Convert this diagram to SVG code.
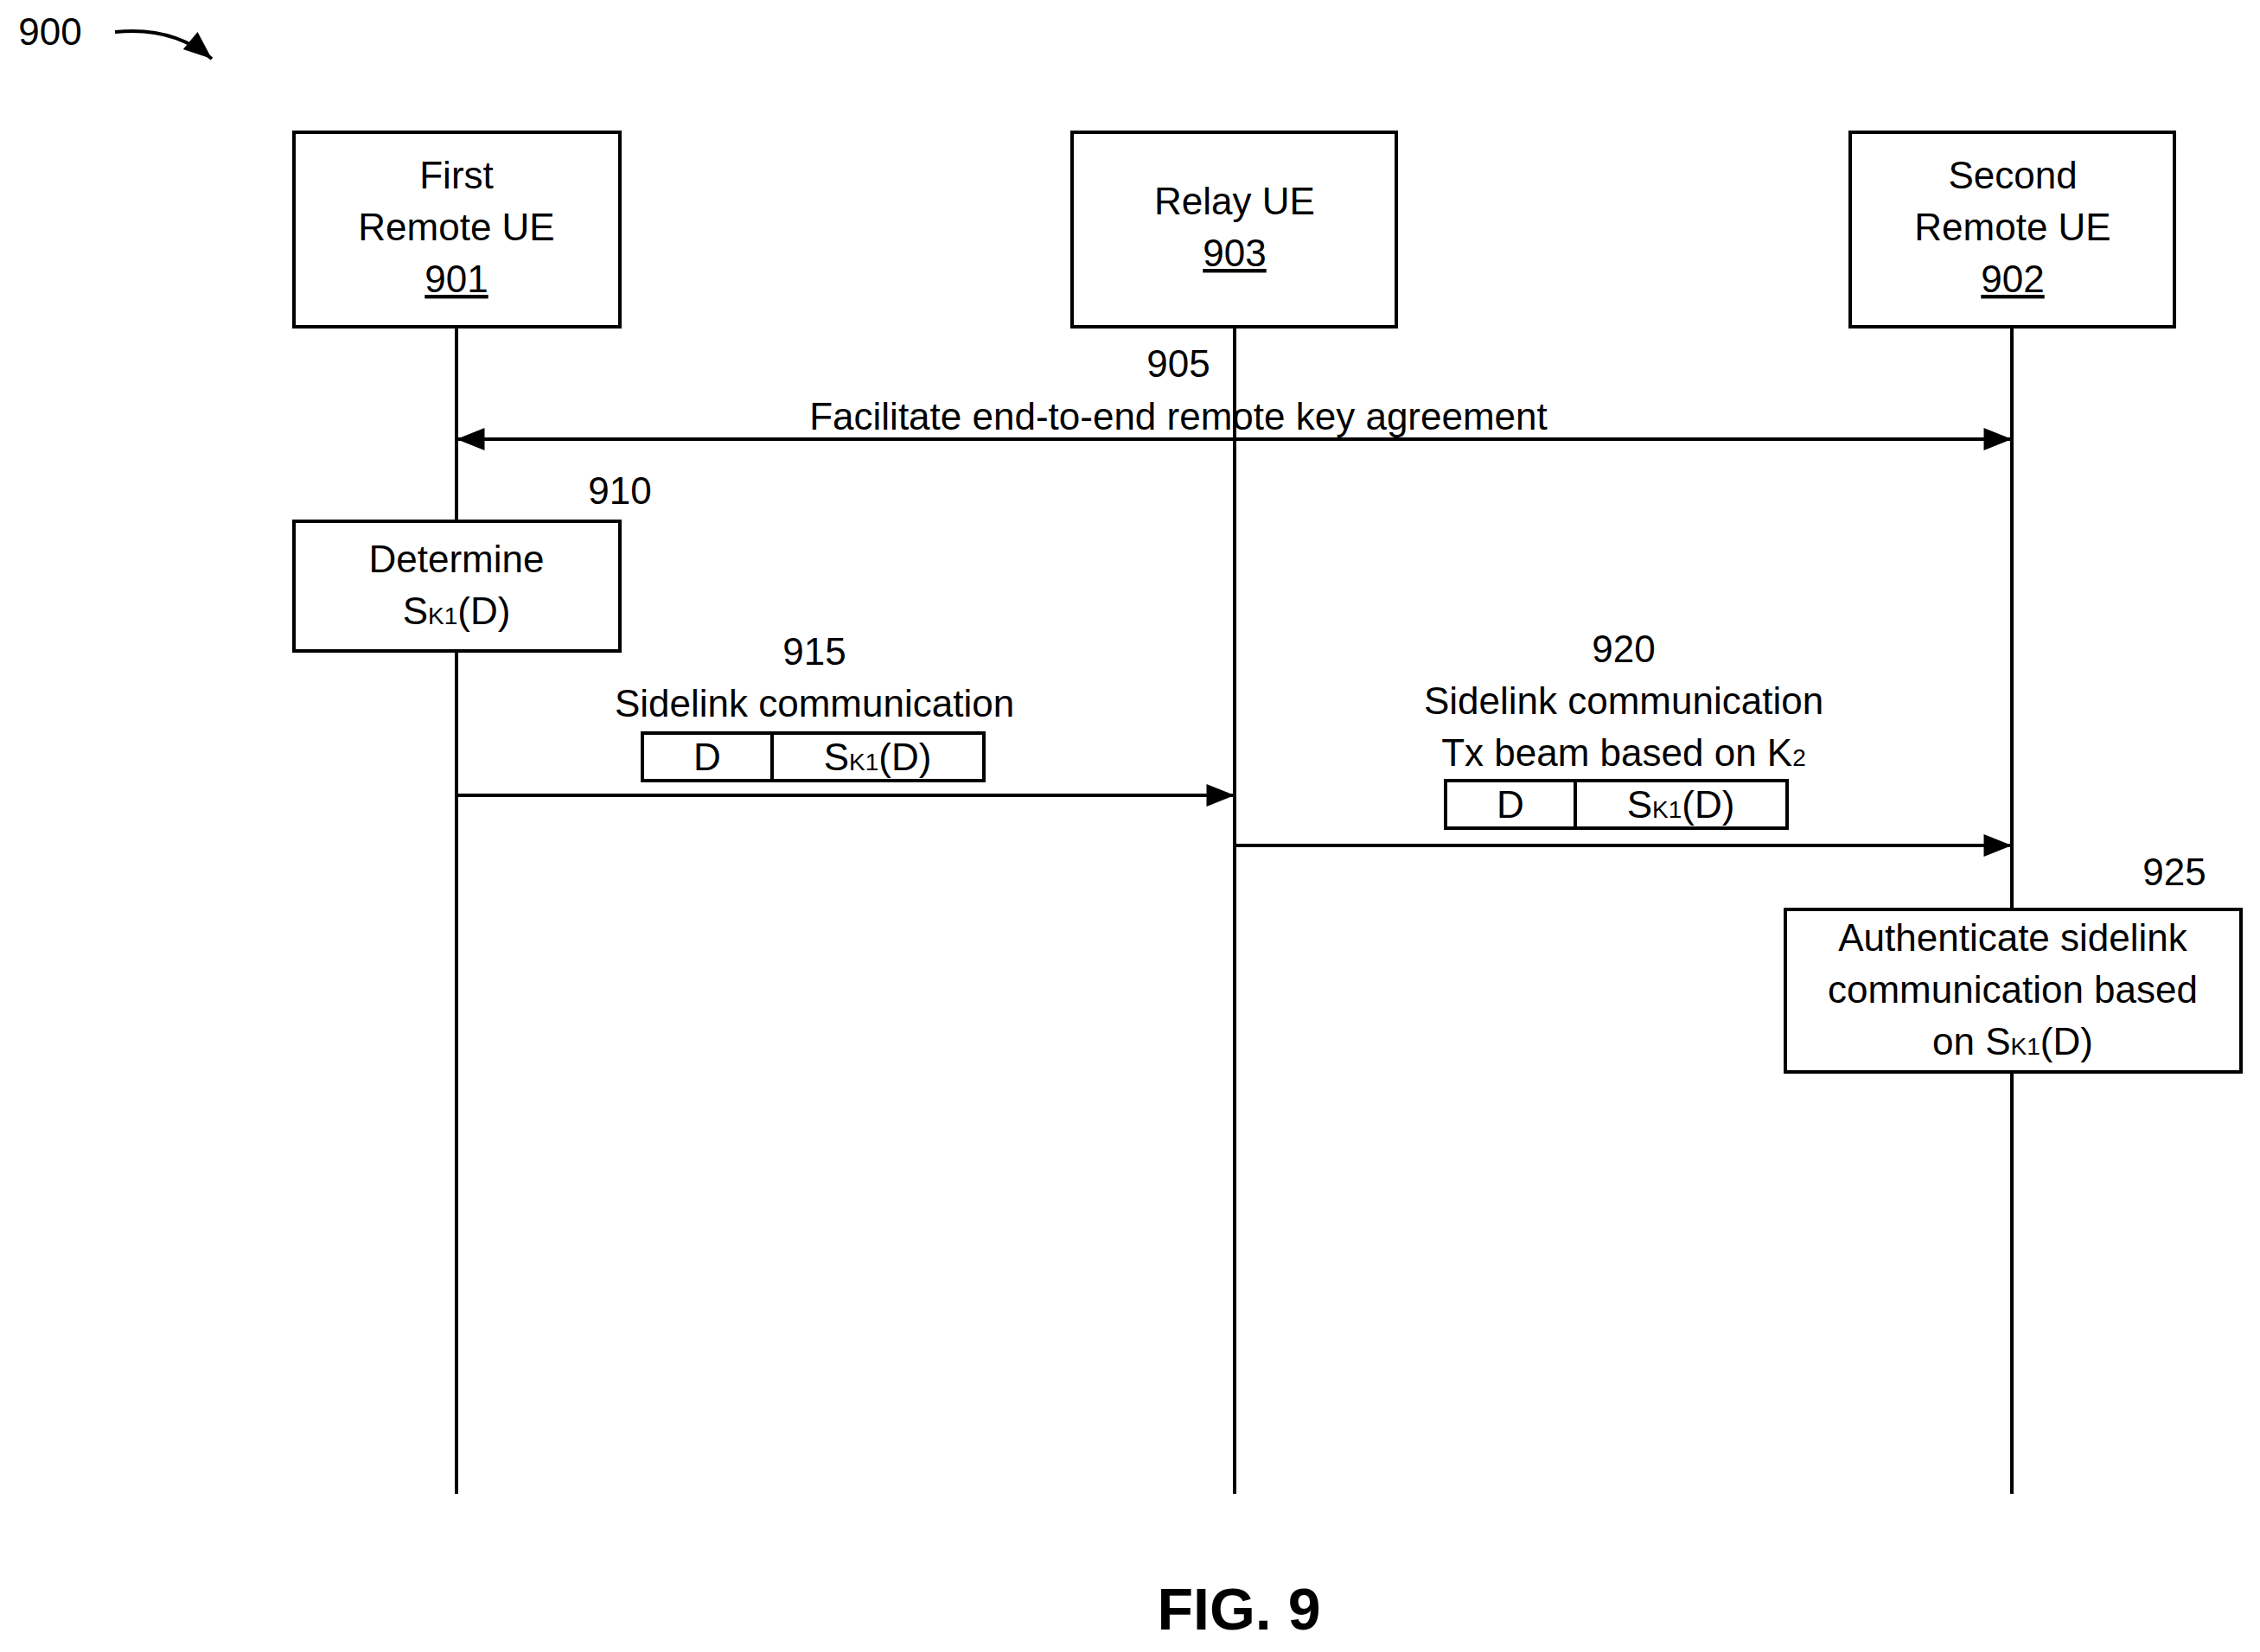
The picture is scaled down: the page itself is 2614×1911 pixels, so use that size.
<svg xmlns="http://www.w3.org/2000/svg" width="2614" height="1911" viewBox="0 0 2614 1911">
<style>
text{font-family:"Liberation Sans",Arial,sans-serif;font-size:44px;fill:#000;text-anchor:middle}
.b{fill:#fff;stroke:#000;stroke-width:4}
.l{stroke:#000;stroke-width:4;fill:none}
.s{font-size:28px}
</style>
<defs><marker id="a" markerWidth="10" markerHeight="8" refX="10" refY="4" orient="auto-start-reverse" markerUnits="userSpaceOnUse" viewBox="0 0 10 8"><path d="M0,0L10,4L0,8z"/></marker>
<marker id="A" viewBox="0 0 10 8" refX="10" refY="4" markerWidth="44" markerHeight="26" orient="auto-start-reverse" markerUnits="userSpaceOnUse"><path d="M0,0L10,4L0,8z"/></marker></defs>
<rect width="2614" height="1911" fill="#fff"/>
<g id="connectors">
<line class="l" x1="528" y1="378" x2="528" y2="1728"/>
<line class="l" x1="1428" y1="378" x2="1428" y2="1728"/>
<line class="l" x1="2327" y1="378" x2="2327" y2="1728"/>
<line class="l" x1="528" y1="508" x2="2327" y2="508" marker-start="url(#A)" marker-end="url(#A)"/>
<line class="l" x1="528" y1="920" x2="1428" y2="920" marker-end="url(#A)"/>
<line class="l" x1="1428" y1="978" x2="2327" y2="978" marker-end="url(#A)"/>
<path class="l" d="M133,37 Q200,30 245,68" marker-end="url(#A)"/>
</g>
<text x="58" y="52">900</text>
<g id="n901"><rect class="b" x="340" y="153" width="377" height="225"/><text x="528" y="218">First</text><text x="528" y="278">Remote UE</text><text x="528" y="338" text-decoration="underline">901</text></g>
<g id="n903"><rect class="b" x="1240" y="153" width="375" height="225"/><text x="1428" y="248">Relay UE</text><text x="1428" y="308" text-decoration="underline">903</text></g>
<g id="n902"><rect class="b" x="2140" y="153" width="375" height="225"/><text x="2328" y="218">Second</text><text x="2328" y="278">Remote UE</text><text x="2328" y="338" text-decoration="underline">902</text></g>
<text x="1363" y="436">905</text>
<text x="1363" y="497">Facilitate end-to-end remote key agreement</text>
<text x="717" y="583">910</text>
<g id="n910"><rect class="b" x="340" y="603" width="377" height="150"/><text x="528" y="662">Determine</text><text x="528" y="722">S<tspan class="s">K1</tspan>(D)</text></g>
<text x="942" y="769">915</text>
<text x="942" y="829">Sidelink communication</text>
<g id="p915"><rect class="b" x="743" y="848" width="395" height="55"/><line class="l" x1="893" y1="848" x2="893" y2="903"/><text x="818" y="891">D</text><text x="1015" y="891">S<tspan class="s">K1</tspan>(D)</text></g>
<text x="1878" y="766">920</text>
<text x="1878" y="826">Sidelink communication</text>
<text x="1878" y="886">Tx beam based on K<tspan class="s">2</tspan></text>
<g id="p920"><rect class="b" x="1672" y="903" width="395" height="55"/><line class="l" x1="1822" y1="903" x2="1822" y2="958"/><text x="1747" y="946">D</text><text x="1944" y="946">S<tspan class="s">K1</tspan>(D)</text></g>
<text x="2515" y="1024">925</text>
<g id="n925"><rect class="b" x="2065" y="1052" width="527" height="188"/><text x="2328" y="1100">Authenticate sidelink</text><text x="2328" y="1160">communication based</text><text x="2328" y="1220">on S<tspan class="s">K1</tspan>(D)</text></g>
<text x="1433" y="1885" style="font-size:68px;font-weight:bold">FIG. 9</text>
</svg>
